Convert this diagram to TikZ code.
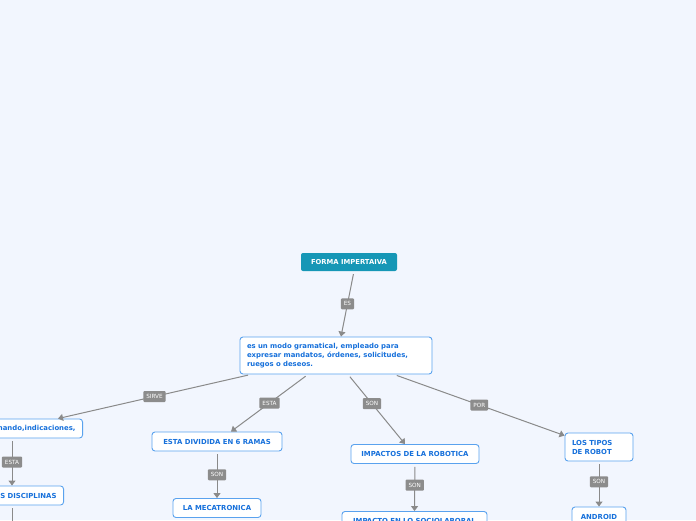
\documentclass[tikz,border=0pt]{standalone}
\usepackage{fontspec}
\setsansfont{DejaVu Sans}
\usetikzlibrary{arrows.meta,positioning}
\definecolor{pagebg}{HTML}{F2F6FE}
\definecolor{rootfill}{HTML}{1697B6}
\definecolor{boxline}{HTML}{5AA2EE}
\definecolor{boxtext}{HTML}{1670DB}
\definecolor{tagfill}{HTML}{8C8C8C}
\definecolor{linkgray}{HTML}{8A8A8A}

\begin{document}
\begin{tikzpicture}[
    x=1pt, y=-1pt,
    font=\sffamily,
    root/.style={
      fill=rootfill, rounded corners=2pt, text=white,
      font=\sffamily\bfseries\fontsize{6.8}{8}\selectfont,
      minimum width=96pt, minimum height=18pt, inner sep=2pt
    },
    topic/.style={
      draw=boxline, line width=0.9pt, rounded corners=3pt, fill=white,
      text=boxtext, font=\sffamily\bfseries\fontsize{6.9}{9}\selectfont,
      inner xsep=7pt, inner ysep=2pt, minimum height=19pt, align=center
    },
    tag/.style={
      fill=tagfill, text=white, rounded corners=1pt,
      font=\sffamily\fontsize{5.7}{6}\selectfont,
      inner xsep=3pt, inner ysep=0pt, minimum height=11pt
    },
    link/.style={
      draw=linkgray, line width=1pt, shorten <=3pt,
      -{Triangle[width=7pt,length=5pt]}
    }
  ]
    \fill[pagebg] (0,0) rectangle (696,520);
    \useasboundingbox (0,0) rectangle (696,520);

    \node[root] (forma) at (349,262) {FORMA IMPERTAIVA};
    \node[topic, text width=178pt, align=left, minimum height=37pt] (modo) at (336,355.5)
      {es un modo gramatical, empleado para\\expresar mandatos, órdenes, solicitudes,\\ruegos o deseos.};

    \node[topic, anchor=east, text width=110pt, align=right] (mando) at (83,428.5) {mando,indicaciones,};
    \node[topic, anchor=east, text width=80pt, align=right] (discip) at (64,495.5) {LAS DISCIPLINAS};
    \coordinate (discfin) at (12,530);

    \node[topic, minimum width=130pt] (ramas) at (217,441.5) {ESTA DIVIDIDA EN 6 RAMAS};
    \node[topic, minimum width=88pt] (meca) at (217,508) {LA MECATRONICA};

    \node[topic, minimum width=128pt] (impactos) at (415,454) {IMPACTOS DE LA ROBOTICA};
    \node[topic, minimum width=145pt] (socio) at (414.5,521) {IMPACTO EN LO SOCIOLABORAL};

    \node[topic, text width=54pt, align=left, minimum height=28pt] (tipos) at (599,447) {LOS TIPOS\\DE ROBOT};
    \node[topic, minimum width=54pt] (android) at (599,516.5) {ANDROID};

    \draw[link] ([xshift=5pt]forma.south) -- ([xshift=5pt]modo.north)
      node[tag, midway] {ES};
    \draw[link] ([xshift=-85pt]modo.south) -- ([xshift=-25pt]mando.north east)
      node[tag, midway] {SIRVE};
    \draw[link] ([xshift=-28pt]modo.south) -- ([xshift=14pt]ramas.north)
      node[tag, midway] {ESTA};
    \draw[link] ([xshift=12pt]modo.south) -- ([xshift=-10pt]impactos.north)
      node[tag, pos=0.42] {SON};
    \draw[link] ([xshift=58pt]modo.south) -- ([yshift=-3pt]tipos.north west)
      node[tag, midway] {POR};

    \draw[link] ([xshift=-71pt]mando.south east) -- ([xshift=-52pt]discip.north east)
      node[tag, midway] {ESTA};
    \draw[draw=linkgray, line width=1pt, shorten <=3pt] ([xshift=-52pt]discip.south east) -- (discfin);
    \draw[link] (ramas) -- (meca)
      node[tag, midway] {SON};
    \draw[link] (impactos) -- (socio.north)
      node[tag, pos=0.45] {SON};
    \draw[link] (tipos) -- (android)
      node[tag, pos=0.45] {SON};
  \end{tikzpicture}
\end{document}
